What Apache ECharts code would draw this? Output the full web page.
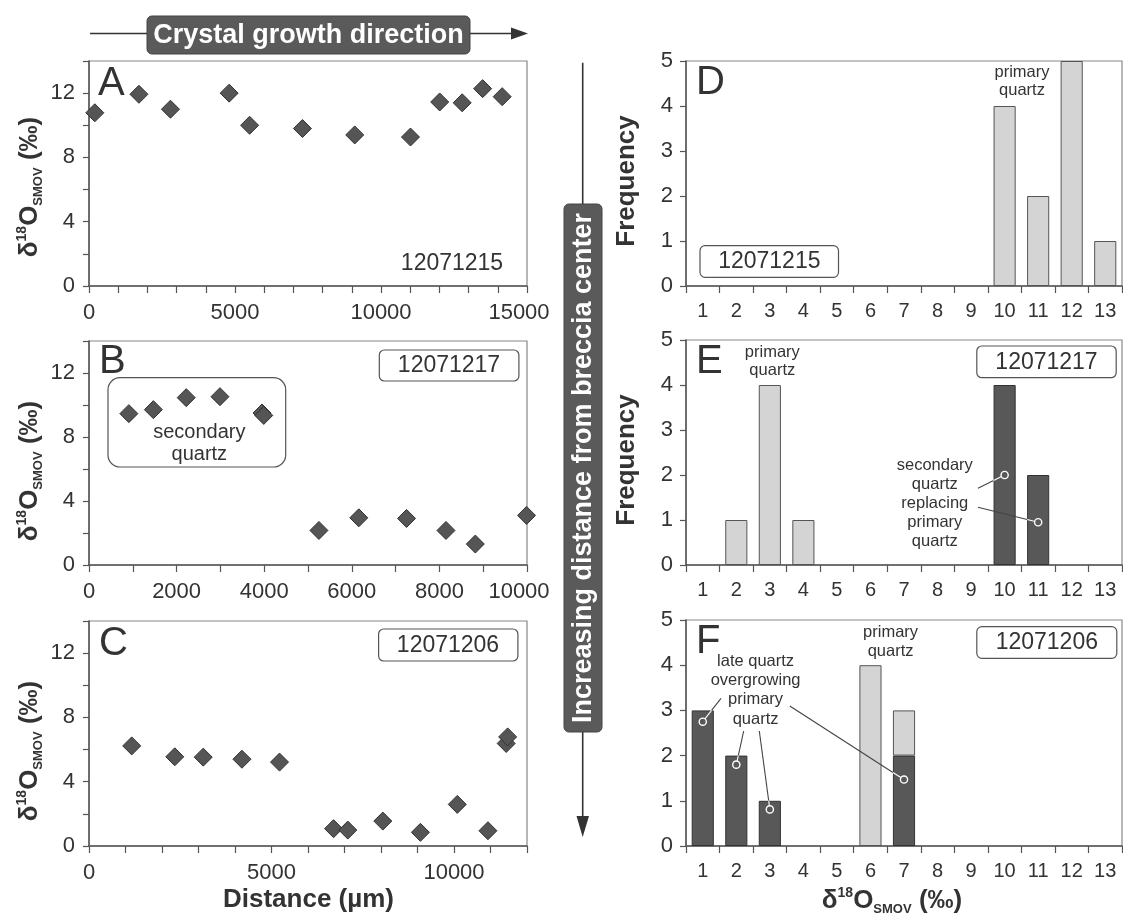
<!DOCTYPE html>
<html><head><meta charset="utf-8">
<script src="https://cdn.jsdelivr.net/npm/echarts@6/dist/echarts.min.js"></script>
<style>html,body{margin:0;padding:0;background:#fff}#c{width:1123px;height:916px}</style>
</head><body><div id="c"></div>
<script>
// ---------- DATA ----------
// Panel A (sample 12071215): distance (µm) vs δ18O (‰)
const distA = [200, 1710, 2790, 4800, 5500, 7310, 9100, 11010, 12010, 12780, 13480, 14150];
const d18OA = [10.78, 11.93, 11.0, 12.0, 10.0, 9.8, 9.4, 9.27, 11.45, 11.4, 12.28, 11.78];
// Panel B (sample 12071217)
const distB = [910, 1470, 2220, 2990, 3950, 3990, 5250, 6160, 7250, 8150, 8820, 9990];
const d18OB = [9.46, 9.71, 10.46, 10.52, 9.5, 9.35, 2.16, 2.95, 2.91, 2.16, 1.31, 3.1];
// Panel C (sample 12071206)
const distC = [1170, 2350, 3130, 4190, 5220, 6700, 7090, 8050, 9080, 10090, 10930, 11430, 11470];
const d18OC = [6.23, 5.55, 5.53, 5.40, 5.22, 1.08, 0.99, 1.55, 0.85, 2.59, 0.95, 6.38, 6.79];

// Histograms (bins of δ18O, ‰)
const bins = ['1','2','3','4','5','6','7','8','9','10','11','12','13'];
const histD_primary  = [0,0,0,0,0,0,0,0,0,4,2,5,1];
const histD_dark     = [0,0,0,0,0,0,0,0,0,0,0,0,0];
const histE_primary  = [0,1,4,1,0,0,0,0,0,0,0,0,0];
const histE_secondary= [0,0,0,0,0,0,0,0,0,4,2,0,0];
const histF_primary  = [0,0,0,0,0,4,1,0,0,0,0,0,0];
const histF_late     = [3,2,1,0,0,0,2,0,0,0,0,0,0];

// Tick labels
const xLabelsA = [0, 5000, 10000, 15000];
const xLabelsB = [0, 2000, 4000, 6000, 8000, 10000];
const xLabelsC = [0, 5000, 10000];
const yLabelsLeft = [0, 4, 8, 12];
const yLabelsHist = [0, 1, 2, 3, 4, 5];

// Sample names and panel letters
const samples = ['12071215', '12071217', '12071206'];
const letters = ['A', 'B', 'C', 'D', 'E', 'F'];

// Annotation leader targets
const leaderGrid = [4, 4, 5, 5, 5, 5];
const leaderBin  = ['10', '11', '1', '2', '3', '7'];
const leaderVal  = [2.0, 0.95, 2.75, 1.8, 0.81, 1.47];
const leaderSX   = [978, 978, 721, 743.7, 759.3, 789.8];
const leaderSY   = [488.3, 507.3, 698.3, 731, 731, 706];

// ---------- CHART ----------
const FONT = 'Liberation Sans, Arial, sans-serif';
const TXT = '#333';
const chart = echarts.init(document.getElementById('c'), null, {renderer: 'canvas'});

const leftGrids  = [{top: 61, height: 225}, {top: 341, height: 224}, {top: 621, height: 225}];
const rightGrids = [{top: 61, height: 225}, {top: 340, height: 225}, {top: 620, height: 226}];
const grids = [];
leftGrids.forEach(g => grids.push({left: 89, width: 438, top: g.top, height: g.height,
  show: true, borderColor: '#888', borderWidth: 1.2, backgroundColor: 'transparent', containLabel: false, outerBoundsMode: 'none'}));
rightGrids.forEach(g => grids.push({left: 686, width: 436, top: g.top, height: g.height,
  show: true, borderColor: '#888', borderWidth: 1.2, backgroundColor: 'transparent', containLabel: false, outerBoundsMode: 'none'}));

const axisLineS = {show: true, onZero: false, lineStyle: {color: '#555', width: 1.5}};
const tickS = {show: true, inside: false, length: 7, lineStyle: {color: '#555', width: 1.2}};

function fmt(list, max) {
  return v => {
    if (list.indexOf(v) < 0) return '';
    return (max !== undefined && v === max) ? '{r|' + v + '}' : String(v);
  };
}

const xMax = [15000, 10000, 12000];
const xLbl = [xLabelsA, xLabelsB, xLabelsC];
const xAxes = [], yAxes = [];
for (let i = 0; i < 3; i++) {
  xAxes.push({type: 'value', gridIndex: i, min: 0, max: xMax[i], interval: 1000,
    axisLine: axisLineS, axisTick: tickS, splitLine: {show: false},
    axisLabel: {show: true, formatter: fmt(xLbl[i], xMax[i]), color: TXT, fontSize: 22, fontFamily: FONT, margin: 16,
      hideOverlap: false, showMinLabel: true, showMaxLabel: true,
      rich: {r: {color: TXT, fontSize: 22, fontFamily: FONT, padding: [0, 16, 0, 0]}}}});
  yAxes.push({type: 'value', gridIndex: i, min: 0, max: 14, interval: 2,
    axisLine: axisLineS, axisTick: Object.assign({}, tickS, {length: 6}), splitLine: {show: false},
    axisLabel: {show: true, formatter: fmt(yLabelsLeft), color: TXT, fontSize: 22, fontFamily: FONT, margin: 14, showMinLabel: true, showMaxLabel: true}});
}
for (let i = 3; i < 6; i++) {
  xAxes.push({type: 'category', gridIndex: i, data: bins, boundaryGap: true,
    axisLine: axisLineS, axisTick: Object.assign({}, tickS, {alignWithLabel: false, interval: 0}), splitLine: {show: false},
    axisLabel: {show: true, interval: 0, color: TXT, fontSize: 20, fontFamily: FONT, margin: 15}});
  yAxes.push({type: 'value', gridIndex: i, min: 0, max: 5, interval: 1,
    axisLine: axisLineS, axisTick: Object.assign({}, tickS, {length: 6}), splitLine: {show: false},
    axisLabel: {show: true, formatter: fmt(yLabelsHist), color: TXT, fontSize: 22, fontFamily: FONT, margin: 13, showMinLabel: true, showMaxLabel: true}});
}

const series = [];
const scat = [[distA, d18OA], [distB, d18OB], [distC, d18OC]];
scat.forEach((s, i) => {
  series.push({type: 'scatter', xAxisIndex: i, yAxisIndex: i, symbol: 'diamond', symbolSize: 18,
    itemStyle: {color: '#555', borderColor: '#333', borderWidth: 1, opacity: 1},
    data: s[0].map((x, k) => [x, s[1][k]]), z: 3});
});
const hists = [[histD_dark, histD_primary], [histE_secondary, histE_primary], [histF_late, histF_primary]];
const nz = arr => arr.map(v => v === 0 ? null : v);
hists.forEach((h, i) => {
  const gi = 3 + i;
  series.push({type: 'bar', xAxisIndex: gi, yAxisIndex: gi, stack: 's' + gi, barWidth: '66%',
    itemStyle: {color: '#585858', borderColor: '#333', borderWidth: 1}, data: nz(h[0])});
  series.push({type: 'bar', xAxisIndex: gi, yAxisIndex: gi, stack: 's' + gi, barWidth: '66%',
    itemStyle: {color: '#d4d4d4', borderColor: '#555', borderWidth: 1}, data: nz(h[1])});
});

chart.setOption({animation: false, backgroundColor: '#fff', grid: grids, xAxis: xAxes, yAxis: yAxes, series: series});

// ---------- GRAPHICS (annotations) ----------
const G = [];
function txt(x, y, text, size, opts) {
  return Object.assign({type: 'text', x: x, y: y, z: 50,
    style: Object.assign({text: text, fill: TXT, fontSize: size, fontFamily: FONT, align: 'center', verticalAlign: 'middle'}, (opts && opts.style) || {})},
    (opts && opts.el) || {});
}
function box(x, y, w, h, r) {
  return {type: 'rect', z: 40, shape: {x: x, y: y, width: w, height: h, r: r},
    style: {fill: 'rgba(255,255,255,0)', stroke: '#555', lineWidth: 1.2}};
}
// top banner and arrow
G.push({type: 'line', z: 40, shape: {x1: 90, y1: 33.5, x2: 514, y2: 33.5}, style: {stroke: '#333', lineWidth: 1.6}});
G.push({type: 'polygon', z: 40, shape: {points: [[528, 33.5], [511, 27.5], [511, 39.5]]}, style: {fill: '#333'}});
G.push({type: 'rect', z: 41, shape: {x: 147, y: 16, width: 323, height: 38, r: 5}, style: {fill: '#5a5a5a', stroke: '#444', lineWidth: 1}});
G.push(txt(308.5, 35.5, 'Crystal growth direction', 27, {style: {fill: '#fff', fontWeight: 'bold'}}));
// vertical banner and arrow
G.push({type: 'line', z: 40, shape: {x1: 582.7, y1: 62.7, x2: 582.7, y2: 820}, style: {stroke: '#333', lineWidth: 1.6}});
G.push({type: 'polygon', z: 40, shape: {points: [[582.7, 837], [576.5, 816], [589, 816]]}, style: {fill: '#333'}});
G.push({type: 'rect', z: 41, shape: {x: 564, y: 204, width: 38, height: 528, r: 5}, style: {fill: '#5a5a5a', stroke: '#444', lineWidth: 1}});
G.push(txt(583.5, 468, 'Increasing distance from breccia center', 27, {style: {fill: '#fff', fontWeight: 'bold'}, el: {rotation: Math.PI / 2}}));

// panel letters
const letterPos = [[98, 84], [99, 362], [99, 644], [696, 83], [696, 362], [696, 642]];
letters.forEach((l, i) => G.push(txt(letterPos[i][0], letterPos[i][1], l, 40, {style: {align: 'left'}})));

// sample labels
G.push(txt(452, 264, samples[0], 23));
G.push(box(379.3, 350, 139.6, 31, 5)); G.push(txt(449, 366, samples[1], 23));
G.push(box(378.6, 629, 139.3, 32, 5)); G.push(txt(448, 645.5, samples[2], 23));
G.push(box(700, 245.7, 138.5, 31.6, 5)); G.push(txt(769.3, 262, samples[0], 23));
G.push(box(976.8, 346, 139.4, 31.7, 5)); G.push(txt(1046.5, 362.5, samples[1], 23));
G.push(box(976.8, 626.7, 140, 31.6, 5)); G.push(txt(1046.8, 643, samples[2], 23));

// secondary quartz box in B
G.push(box(108, 377.7, 177.7, 89.3, 12));
G.push(txt(199.3, 443.3, 'secondary\nquartz', 20, {style: {lineHeight: 21.5}}));

// histogram annotations
G.push(txt(1022, 81.7, 'primary\nquartz', 16.5, {style: {lineHeight: 18}}));
G.push(txt(772.3, 361.8, 'primary\nquartz', 16.5, {style: {lineHeight: 18.3}}));
G.push(txt(934.8, 503.6, 'secondary\nquartz\nreplacing\nprimary\nquartz', 16.5, {style: {lineHeight: 19}}));
G.push(txt(755.6, 690.4, 'late quartz\novergrowing\nprimary\nquartz', 16.5, {style: {lineHeight: 19.1}}));
G.push(txt(890.6, 641.7, 'primary\nquartz', 16.5, {style: {lineHeight: 18.7}}));

// axis names
const richY = {
  b: {fontSize: 26, fontWeight: 'bold', fontFamily: FONT, fill: TXT, lineHeight: 30},
  sup: {fontSize: 14, fontWeight: 'bold', fontFamily: FONT, fill: TXT, lineHeight: 15, verticalAlign: 'top'},
  sub: {fontSize: 13, fontWeight: 'bold', fontFamily: FONT, fill: TXT, lineHeight: 13, verticalAlign: 'bottom'}
};
const yName = '{b|δ}{sup|18}{b|O}{sub|SMOV}{b| (‰)}';
[[30, 187], [30, 471], [30, 751]].forEach(p => G.push({type: 'text', x: p[0], y: p[1], rotation: Math.PI / 2, z: 50,
  style: {text: yName, rich: richY, align: 'center', verticalAlign: 'middle'}}));
G.push({type: 'text', x: 892, y: 901, z: 50, style: {text: yName, rich: richY, align: 'center', verticalAlign: 'middle'}});
[[627, 181], [627, 460]].forEach(p => G.push(txt(p[0], p[1], 'Frequency', 26, {style: {fontWeight: 'bold'}, el: {rotation: Math.PI / 2}})));
G.push(txt(308.5, 900, 'Distance (µm)', 26, {style: {fontWeight: 'bold'}}));

// leader lines with circles (positions from the axes)
const darkOf = {3: histD_dark, 4: histE_secondary, 5: histF_late};
for (let k = 0; k < leaderGrid.length; k++) {
  const gi = leaderGrid[k], cat = leaderBin[k];
  const c = chart.convertToPixel({gridIndex: gi}, [cat, leaderVal[k]]);
  const base = chart.convertToPixel({gridIndex: gi}, [cat, 0]);
  const top = chart.convertToPixel({gridIndex: gi}, [cat, darkOf[gi][bins.indexOf(cat)]]);
  const a0 = chart.convertToPixel({gridIndex: gi}, [bins[0], 0]);
  const a1 = chart.convertToPixel({gridIndex: gi}, [bins[1], 0]);
  const half = Math.abs(a1[0] - a0[0]) * 0.33;
  const x0 = c[0] - half, x1 = c[0] + half, y0 = top[1], y1 = base[1];
  const sx = leaderSX[k], sy = leaderSY[k];
  const dx = c[0] - sx, dy = c[1] - sy;
  const p = [-dx, dx, -dy, dy], q = [sx - x0, x1 - sx, sy - y0, y1 - sy];
  let tIn = 0;
  for (let i = 0; i < 4; i++) if (p[i] < 0) tIn = Math.max(tIn, q[i] / p[i]);
  const ix = sx + tIn * dx, iy = sy + tIn * dy;
  G.push({type: 'line', z: 60, shape: {x1: sx, y1: sy, x2: ix, y2: iy}, style: {stroke: '#444', lineWidth: 1.1}});
  G.push({type: 'line', z: 60, shape: {x1: ix, y1: iy, x2: c[0], y2: c[1]}, style: {stroke: '#fff', lineWidth: 1.1}});
  G.push({type: 'circle', z: 61, shape: {cx: c[0], cy: c[1], r: 3.6}, style: {fill: '#585858', stroke: '#fff', lineWidth: 1.4}});
}

chart.setOption({graphic: {elements: G}});
</script>
</body></html>
